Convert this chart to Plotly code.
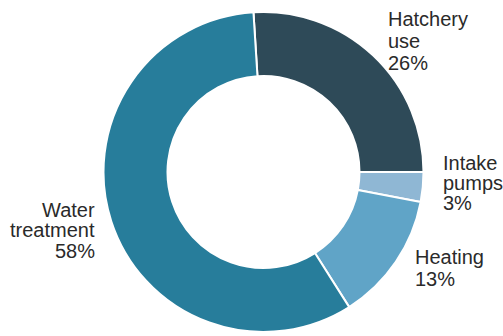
import plotly.graph_objects as go

# Energy use breakdown (share of total, %)
categories = ["Hatchery use", "Intake pumps", "Heating", "Water treatment"]
shares = [26, 3, 13, 58]
colors = ["#2E4A58", "#8FB7D4", "#60A4C7", "#277D9B"]

W, H = 503, 336
FONT = "Liberation Sans, Arial, Helvetica, sans-serif"
TEXT_COLOR = "#2a2a2a"
FS = 20

fig = go.Figure(
    go.Pie(
        labels=categories,
        values=shares,
        marker=dict(colors=colors, line=dict(color="white", width=2)),
        hole=0.6,
        sort=False,
        direction="clockwise",
        rotation=-3.6,
        textinfo="none",
        hoverinfo="label+percent",
        domain=dict(x=[103.5 / W, 423.5 / W], y=[4 / H, 1 - 12 / H]),
        showlegend=False,
    )
)

# Outside labels: anchor x, first baseline y, line step (px), alignment
label_layout = {
    "Hatchery use": dict(x=386, y=26, step=22, align="left"),
    "Intake pumps": dict(x=441, y=170, step=20, align="left"),
    "Heating": dict(x=413, y=264, step=22.5, align="left"),
    "Water treatment": dict(x=97, y=217, step=20.5, align="right"),
}

for name, share in zip(categories, shares):
    spec = label_layout[name]
    lines = name.split(" ") + [f"{share}%"]
    for i, line in enumerate(lines):
        base = spec["y"] + i * spec["step"]
        cap_mid = base - 0.716 * FS / 2
        fig.add_annotation(
            x=spec["x"] / W,
            y=1 - cap_mid / H,
            xref="paper",
            yref="paper",
            xanchor=spec["align"],
            yanchor="middle",
            text=line,
            showarrow=False,
            font=dict(family=FONT, size=FS, color=TEXT_COLOR),
        )

fig.update_layout(
    width=W,
    height=H,
    margin=dict(l=0, r=0, t=0, b=0),
    paper_bgcolor="white",
    plot_bgcolor="white",
)

fig.write_html("out.html")
